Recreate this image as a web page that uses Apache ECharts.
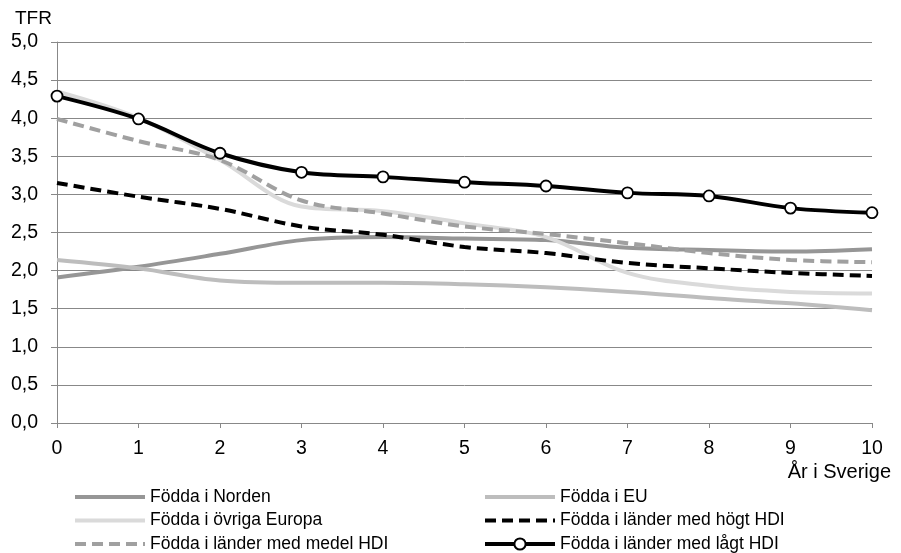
<!DOCTYPE html>
<html><head><meta charset="utf-8">
<script src="https://cdn.jsdelivr.net/npm/echarts@6/dist/echarts.min.js"></script>
<style>html,body{margin:0;padding:0;background:#fff}#c{width:901px;height:553px}</style>
</head><body><div id="c"></div>
<script>
const years = [0,1,2,3,4,5,6,7,8,9,10];
const yTicks = ['0,0','0,5','1,0','1,5','2,0','2,5','3,0','3,5','4,0','4,5','5,0'];
const names = ['Födda i Norden','Födda i EU','Födda i övriga Europa','Födda i länder med högt HDI','Födda i länder med medel HDI','Födda i länder med lågt HDI'];
const norden  = [1.91,2.05,2.22,2.40,2.44,2.42,2.40,2.30,2.27,2.25,2.28];
const eu      = [2.14,2.03,1.87,1.84,1.84,1.82,1.78,1.72,1.64,1.57,1.48];
const ovriga  = [4.35,4.00,3.45,2.84,2.78,2.62,2.44,1.97,1.80,1.72,1.70];
const hogtHDI = [3.15,2.97,2.81,2.58,2.47,2.31,2.23,2.10,2.03,1.97,1.93];
const medelHDI= [3.99,3.70,3.45,2.92,2.75,2.58,2.48,2.36,2.23,2.14,2.11];
const lagtHDI = [4.29,3.99,3.54,3.29,3.23,3.16,3.11,3.02,2.98,2.82,2.76];

const pair = a => years.map((x,i)=>[x,a[i]]);
const font = 'Liberation Sans, Arial, sans-serif';
function line(name, data, color, type, extra){
  return Object.assign({
    name, type:'line', data:pair(data), smooth:0.35, symbol:'none',
    lineStyle:{color, width:4, type}, itemStyle:{color}, z:2
  }, extra||{});
}
const hide = {opacity:0};
const legText = {fontFamily:font, fontSize:17.5, color:'#000', lineHeight:18};
const chart = echarts.init(document.getElementById('c'), null, {renderer:'canvas'});
chart.setOption({
  animation:false,
  textStyle:{fontFamily:font},
  title:[
    {text:'TFR', left:15, top:9, padding:0, textStyle:{fontFamily:font, fontSize:19, fontWeight:'normal', color:'#000'}},
    {text:'År i Sverige', right:10, top:462, padding:0, textStyle:{fontFamily:font, fontSize:20, fontWeight:'normal', color:'#000'}}
  ],
  grid:{left:57, right:29, top:42, bottom:130},
  xAxis:{type:'value', min:0, max:10, interval:1,
    axisLine:{lineStyle:{color:'#888', width:1}},
    axisTick:{show:true, inside:false, length:5, lineStyle:{color:'#888'}},
    axisLabel:{color:'#000', fontSize:19.5, fontFamily:font, margin:16},
    splitLine:{show:false}},
  yAxis:{type:'value', min:0, max:5, interval:0.5,
    axisLine:{show:true, lineStyle:{color:'#888', width:1}},
    axisTick:{show:true, length:6, lineStyle:{color:'#888'}},
    axisLabel:{color:'#000', fontSize:19.5, fontFamily:font, margin:19,
      formatter:(v)=>yTicks[Math.round(v*2)]},
    splitLine:{show:true, lineStyle:{color:'#888', width:1}}},
  legend:[
    {data:[{name:names[0], itemStyle:hide},{name:names[2], itemStyle:hide},{name:names[4], itemStyle:hide}],
      orient:'vertical', left:73, top:488, padding:0, itemWidth:70, itemHeight:14, itemGap:5.5,
      lineStyle:{width:'inherit'}, textStyle:legText},
    {data:[{name:names[1], itemStyle:hide},{name:names[3], itemStyle:hide},{name:names[5]}],
      orient:'vertical', left:483, top:488, padding:0, itemWidth:70, itemHeight:14, itemGap:5.5,
      lineStyle:{width:'inherit'}, textStyle:legText}
  ],
  series:[
    line(names[0], norden, '#969696', 'solid'),
    line(names[1], eu, '#bdbdbd', 'solid'),
    line(names[2], ovriga, '#dadada', 'solid'),
    line(names[3], hogtHDI, '#000000', [11,6]),
    line(names[4], medelHDI, '#a0a0a0', [11,6]),
    line(names[5], lagtHDI, '#000000', 'solid', {
      symbol:'circle', symbolSize:11, showSymbol:true, z:5,
      itemStyle:{color:'#ffffff', borderColor:'#000', borderWidth:1.8}})
  ]
});
</script></body></html>
